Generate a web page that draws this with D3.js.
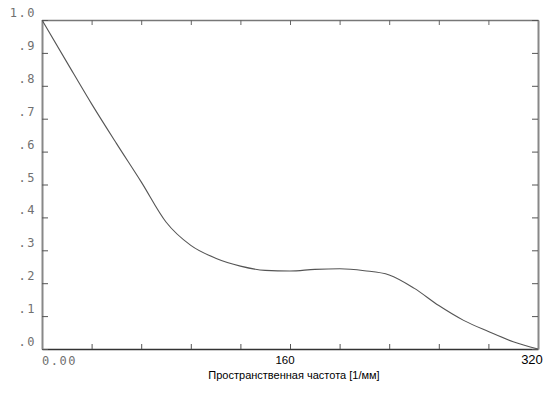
<!DOCTYPE html>
<html>
<head>
<meta charset="utf-8">
<script src="https://cdn.jsdelivr.net/npm/d3@7"></script>
<style>
  html, body { margin: 0; padding: 0; background: #fff; }
  svg { display: block; }
  .mono { font-family: "DejaVu Sans Mono", "Liberation Mono", monospace; font-size: 12px; fill: #707070; letter-spacing: 1.5px; }
  .sans { font-family: Arial, "Liberation Sans", sans-serif; fill: #000; }
</style>
</head>
<body>
<div id="chart"></div>
<script>
// spatial frequency (1/mm) and MTF values
const freq = [0, 16, 32, 48, 64, 80, 96, 112, 128, 144, 160, 176, 192, 208, 224, 240, 256, 272, 288, 304, 320];
const mtf  = [1.0, 0.872, 0.745, 0.625, 0.508, 0.386, 0.315, 0.276, 0.252, 0.239, 0.237, 0.242, 0.244, 0.238, 0.225, 0.185, 0.132, 0.087, 0.053, 0.022, 0.0];

const yTickValues = [0, 0.1, 0.2, 0.3, 0.4, 0.5, 0.6, 0.7, 0.8, 0.9, 1.0];
const yTickLabels = [".0", ".1", ".2", ".3", ".4", ".5", ".6", ".7", ".8", ".9", "1.0"];
const xTickValues = d3.range(0, 321, 32);
const xLabelValues = [0, 160, 320];
const xLabelText = ["0.00", "160", "320"];
const xTitle = "Пространственная частота [1/мм]";

(function() {
    const width = 555, height = 398;
    const margin = {left: 42, right: 17, top: 20, bottom: 49};

    const svg = d3.select('#chart').append('svg')
        .attr('width', width)
        .attr('height', height);

    const x = d3.scaleLinear().domain([0, 320]).range([margin.left, width - margin.right]);
    const y = d3.scaleLinear().domain([0, 1]).range([height - margin.bottom, margin.top]);

    // frame axes, ticks all pointing inward
    const axisB = svg.append('g')
        .attr('transform', `translate(0,${y(0)})`)
        .call(d3.axisBottom(x).tickValues(xTickValues).tickSize(-5).tickSizeOuter(0).tickFormat(''));
    axisB.select('.domain').attr('stroke', '#333').attr('stroke-width', 1.5);
    axisB.selectAll('.tick line').attr('stroke', '#555');

    const axisT = svg.append('g')
        .attr('transform', `translate(0,${y(1)})`)
        .call(d3.axisTop(x).tickValues(xTickValues).tickSize(-5).tickSizeOuter(0).tickFormat(''));
    axisT.select('.domain').attr('stroke', '#777').attr('stroke-width', 1.5);
    axisT.selectAll('.tick line').attr('stroke', '#666');

    const axisL = svg.append('g')
        .attr('transform', `translate(${x(0)},0)`)
        .call(d3.axisLeft(y).tickValues(yTickValues).tickSize(-6).tickSizeOuter(0).tickFormat(''));
    axisL.select('.domain').attr('stroke', '#888').attr('stroke-width', 2);
    axisL.selectAll('.tick line').attr('stroke', '#555');

    const axisR = svg.append('g')
        .attr('transform', `translate(${x(320)},0)`)
        .call(d3.axisRight(y).tickValues(yTickValues).tickSize(-6).tickSizeOuter(0).tickFormat(''));
    axisR.select('.domain').attr('stroke', '#888').attr('stroke-width', 2);
    axisR.selectAll('.tick line').attr('stroke', '#555');

    // y labels sit a little above their ticks
    svg.append('g').selectAll('text')
        .data(yTickValues)
        .enter()
        .append('text')
        .attr('class', 'mono')
        .attr('x', 36)
        .attr('y', d => y(d) - 3)
        .attr('text-anchor', 'end')
        .text((d, i) => yTickLabels[i]);

    // x labels
    svg.append('text')
        .attr('class', 'mono')
        .attr('x', x(xLabelValues[0]))
        .attr('y', 365)
        .text(xLabelText[0]);

    svg.append('text')
        .attr('class', 'sans')
        .attr('x', x(xLabelValues[1]) - 5)
        .attr('y', 364)
        .attr('text-anchor', 'middle')
        .style('font-size', '11.5px')
        .text(xLabelText[1]);

    svg.append('text')
        .attr('class', 'sans')
        .attr('x', x(xLabelValues[2]) - 6)
        .attr('y', 364)
        .attr('text-anchor', 'middle')
        .style('font-size', '13px')
        .text(xLabelText[2]);

    svg.append('text')
        .attr('class', 'sans')
        .attr('x', 294)
        .attr('y', 379)
        .attr('text-anchor', 'middle')
        .style('font-size', '11px')
        .text(xTitle);

    // the curve
    const line = d3.line()
        .x((d, i) => x(freq[i]))
        .y(d => y(d))
        .curve(d3.curveMonotoneX);

    svg.append('path')
        .datum(mtf)
        .attr('d', line)
        .attr('fill', 'none')
        .attr('stroke', '#555')
        .attr('stroke-width', 1.1);
})();
</script>
</body>
</html>
